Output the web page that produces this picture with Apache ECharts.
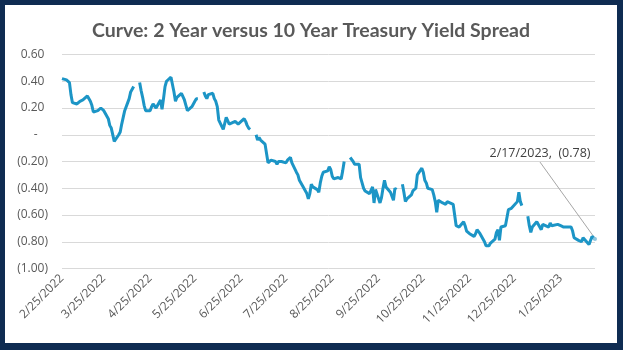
<!DOCTYPE html>
<html><head><meta charset="utf-8">
<script src="https://cdn.jsdelivr.net/npm/echarts@6/dist/echarts.min.js"></script>
<style>
html,body{margin:0;padding:0;background:#fff;}
#frame{position:absolute;left:0;top:0;width:623px;height:350px;background:#0f2c52;}
#chart{position:absolute;left:5px;top:5px;width:612px;height:338px;background:#fff;}
</style></head>
<body><div id="frame"><div id="chart"></div></div>
<script>
const chartTitle = 'Curve: 2 Year versus 10 Year Treasury Yield Spread';
const xTickLabels = ['2/25/2022','3/25/2022','4/25/2022','5/25/2022','6/25/2022','7/25/2022','8/25/2022','9/25/2022','10/25/2022','11/25/2022','12/25/2022','1/25/2023'];
const yMin = -1, yMax = 0.6, yStep = 0.2;
const dates = [
'2022-02-25','2022-02-28','2022-03-01','2022-03-02','2022-03-03','2022-03-04','2022-03-07','2022-03-08','2022-03-09','2022-03-10','2022-03-11',
'2022-03-14','2022-03-15','2022-03-16','2022-03-17','2022-03-18','2022-03-21','2022-03-22','2022-03-23','2022-03-24','2022-03-25',
'2022-03-28','2022-03-29','2022-03-30','2022-03-31','2022-04-01','2022-04-04','2022-04-05','2022-04-06','2022-04-07','2022-04-08',
'2022-04-11','2022-04-12','2022-04-13','2022-04-14','2022-04-15','2022-04-18','2022-04-19','2022-04-20','2022-04-21','2022-04-22',
'2022-04-25','2022-04-26','2022-04-27','2022-04-28','2022-04-29','2022-05-02','2022-05-03','2022-05-04','2022-05-05','2022-05-06',
'2022-05-09','2022-05-10','2022-05-11','2022-05-12','2022-05-13','2022-05-16','2022-05-17','2022-05-18','2022-05-19','2022-05-20',
'2022-05-23','2022-05-24','2022-05-25','2022-05-26','2022-05-27','2022-05-30','2022-05-31','2022-06-01','2022-06-02','2022-06-03',
'2022-06-06','2022-06-07','2022-06-08','2022-06-09','2022-06-10','2022-06-13','2022-06-14','2022-06-15','2022-06-16','2022-06-17',
'2022-06-21','2022-06-22','2022-06-23','2022-06-24','2022-06-27','2022-06-28','2022-06-29','2022-06-30','2022-07-01',
'2022-07-04','2022-07-05','2022-07-06','2022-07-07','2022-07-08','2022-07-11','2022-07-12','2022-07-13','2022-07-14','2022-07-15',
'2022-07-18','2022-07-19','2022-07-20','2022-07-21','2022-07-22','2022-07-25','2022-07-26','2022-07-27','2022-07-28','2022-07-29',
'2022-08-01','2022-08-02','2022-08-03','2022-08-04','2022-08-05','2022-08-08','2022-08-09','2022-08-10','2022-08-11','2022-08-12',
'2022-08-15','2022-08-16','2022-08-17','2022-08-18','2022-08-19','2022-08-22','2022-08-23','2022-08-24','2022-08-25','2022-08-26',
'2022-08-29','2022-08-30','2022-08-31','2022-09-01','2022-09-02','2022-09-05','2022-09-06','2022-09-07','2022-09-08','2022-09-09',
'2022-09-12','2022-09-13','2022-09-14','2022-09-15','2022-09-16','2022-09-19','2022-09-20','2022-09-21','2022-09-22','2022-09-23',
'2022-09-26','2022-09-27','2022-09-28','2022-09-29','2022-09-30','2022-10-03','2022-10-04','2022-10-05','2022-10-06','2022-10-07',
'2022-10-10','2022-10-11','2022-10-12','2022-10-13','2022-10-14','2022-10-17','2022-10-18','2022-10-19','2022-10-20','2022-10-21',
'2022-10-24','2022-10-25','2022-10-26','2022-10-27','2022-10-28','2022-10-31','2022-11-01','2022-11-02','2022-11-03','2022-11-04',
'2022-11-07','2022-11-08','2022-11-09','2022-11-10','2022-11-14','2022-11-15','2022-11-16','2022-11-17','2022-11-18',
'2022-11-21','2022-11-22','2022-11-23','2022-11-25','2022-11-28','2022-11-29','2022-11-30','2022-12-01','2022-12-02',
'2022-12-05','2022-12-06','2022-12-07','2022-12-08','2022-12-09','2022-12-12','2022-12-13','2022-12-14','2022-12-15','2022-12-16',
'2022-12-19','2022-12-20','2022-12-21','2022-12-22','2022-12-23','2022-12-27','2022-12-28','2022-12-29','2022-12-30',
'2023-01-02','2023-01-03','2023-01-04','2023-01-05','2023-01-06','2023-01-09','2023-01-10','2023-01-11','2023-01-12','2023-01-13',
'2023-01-17','2023-01-18','2023-01-19','2023-01-20','2023-01-23','2023-01-24','2023-01-25','2023-01-26','2023-01-27',
'2023-01-30','2023-01-31','2023-02-01','2023-02-02','2023-02-03','2023-02-06','2023-02-07','2023-02-08','2023-02-09','2023-02-10',
'2023-02-13','2023-02-14','2023-02-15','2023-02-16','2023-02-17'
];
const spread = [
0.42,0.41,0.40,0.39,0.30,0.24,0.23,0.22,0.25,0.25,0.26,
0.29,0.30,0.25,0.22,0.17,0.18,0.19,0.20,0.21,0.18,
0.12,0.07,0.05,0.04,-0.05,0.00,0.02,0.08,0.13,0.18,
0.27,0.32,0.33,0.36,null,0.39,0.33,0.28,0.22,0.18,
0.18,0.21,0.23,0.24,0.20,0.26,0.19,0.27,0.36,0.40,
0.43,0.43,0.32,0.25,0.28,0.31,0.30,0.26,0.22,0.18,
0.21,0.22,0.25,0.27,0.27,null,0.32,0.29,0.27,0.30,
0.31,0.27,0.25,0.21,0.11,0.04,0.03,0.13,0.12,0.08,
0.10,0.09,0.08,0.09,0.12,0.10,0.07,0.05,0.04,
null,0.00,-0.04,-0.02,-0.04,-0.07,-0.08,-0.21,-0.21,-0.19,
-0.20,-0.22,-0.20,-0.21,-0.20,-0.21,-0.19,-0.18,-0.17,-0.21,
-0.28,-0.30,-0.34,-0.33,-0.38,-0.44,-0.48,-0.44,-0.37,-0.39,
-0.41,-0.43,-0.36,-0.31,-0.28,-0.27,-0.24,-0.26,-0.31,-0.33,
-0.32,-0.33,-0.33,-0.27,-0.20,null,-0.17,-0.18,-0.20,-0.22,
-0.22,-0.32,-0.36,-0.40,-0.42,-0.44,-0.45,-0.39,-0.51,-0.41,
-0.51,-0.47,-0.40,-0.34,-0.39,-0.43,-0.44,-0.49,-0.40,-0.41,
null,-0.37,-0.43,-0.50,-0.48,-0.45,-0.42,-0.41,-0.40,-0.30,
-0.25,-0.28,-0.34,-0.36,-0.40,-0.41,-0.45,-0.50,-0.58,-0.49,
-0.51,-0.50,-0.52,-0.50,-0.52,-0.52,-0.68,-0.68,-0.69,
-0.65,-0.68,-0.72,-0.74,-0.76,-0.74,-0.71,-0.72,-0.74,
-0.80,-0.83,-0.84,-0.83,-0.81,-0.78,-0.73,-0.71,-0.79,-0.69,
-0.68,-0.68,-0.56,-0.57,-0.55,-0.50,-0.43,-0.50,-0.53,
null,-0.61,-0.68,-0.73,-0.69,-0.65,-0.66,-0.69,-0.71,-0.67,
-0.69,-0.66,-0.68,-0.69,-0.67,-0.68,-0.68,-0.69,-0.69,
-0.69,-0.70,-0.69,-0.72,-0.77,-0.79,-0.80,-0.80,-0.77,-0.78,
-0.82,-0.79,-0.76,-0.77,-0.78
];

function toKey(iso){ const p = iso.split('-').map(Number); return p[1] + '/' + p[2] + '/' + p[0]; }
function calendar(startIso, endIso){
  const out = []; const s = startIso.split('-').map(Number), e = endIso.split('-').map(Number);
  let t = Date.UTC(s[0], s[1]-1, s[2]); const end = Date.UTC(e[0], e[1]-1, e[2]);
  while (t <= end){ const d = new Date(t); out.push((d.getUTCMonth()+1) + '/' + d.getUTCDate() + '/' + d.getUTCFullYear()); t += 86400000; }
  return out;
}
const categories = calendar(dates[0], dates[dates.length-1]);
const lastIdx = dates.length - 1;
const lastKey = toKey(dates[lastIdx]);
const lastVal = spread[lastIdx];
const seriesData = dates.map((d, i) => {
  const item = { value: [toKey(d), spread[i] === null ? '-' : spread[i]] };
  if (i === lastIdx) { item.symbol = 'circle'; item.symbolSize = 4; }
  else { item.symbol = 'none'; }
  return item;
});
const fmtPlain = v => {
  const r = Math.round(v * 100) / 100;
  if (r === 0) return '-';
  return r < 0 ? '(' + (-r).toFixed(2) + ')' : r.toFixed(2);
};
const fmtAxis = v => {
  const r = Math.round(v * 100) / 100;
  if (r === 0) return '-{p|0)}';
  if (r < 0) return '(' + (-r).toFixed(2) + ')';
  return r.toFixed(2) + '{p|)}';
};
const FONT = 'Open Sans';
const chart = echarts.init(document.getElementById('chart'), null, { renderer: 'canvas' });
chart.setOption({
  animation: false,
  backgroundColor: '#ffffff',
  title: {
    text: chartTitle, left: 'center', top: 11,
    textStyle: { fontFamily: 'Lato', fontWeight: 'bold', fontSize: 19.5, color: '#595959' }
  },
  grid: { left: 57, right: 22, top: 49.5, bottom: 74.5, containLabel: false },
  xAxis: {
    type: 'category', data: categories, boundaryGap: false,
    axisLine: { show: false }, axisTick: { show: false },
    splitLine: { show: false },
    axisLabel: {
      interval: (idx, val) => xTickLabels.indexOf(val) >= 0,
      rotate: 45, margin: 8, color: '#595959', fontFamily: FONT, fontSize: 12
    }
  },
  yAxis: {
    type: 'value', min: yMin, max: yMax, interval: yStep,
    axisLine: { show: false }, axisTick: { show: false },
    splitLine: { show: true, lineStyle: { color: '#d9d9d9', width: 1 } },
    axisLabel: {
      margin: 14, color: '#595959', fontFamily: FONT, fontSize: 12,
      formatter: fmtAxis,
      rich: { p: { color: 'rgba(0,0,0,0)', fontFamily: FONT, fontSize: 12 } }
    }
  },
  series: [{
    type: 'line', data: seriesData, showSymbol: true, showAllSymbol: true,
    connectNulls: false, smooth: false,
    lineStyle: { color: '#1c95c6', width: 3 },
    itemStyle: { color: '#8fc6de' },
    emphasis: { disabled: true }
  }]
});
// data label with leader line, placed relative to the last point's pixel position
const pt = chart.convertToPixel({ gridIndex: 0 }, [lastKey, lastVal]);
const lblDx = -55, lblDy = -86;
chart.setOption({
  graphic: [
    { type: 'line', silent: true,
      shape: { x1: pt[0] + lblDx, y1: pt[1] + lblDy + 9, x2: pt[0] - 1, y2: pt[1] - 2 },
      style: { stroke: '#a6a6a6', lineWidth: 1 } },
    { type: 'text', silent: true, x: pt[0] + lblDx, y: pt[1] + lblDy,
      style: { text: lastKey + ',  ' + fmtPlain(lastVal), fill: '#404040',
        font: '12.5px "Open Sans"', textAlign: 'center', textVerticalAlign: 'middle' } }
  ]
});
</script>
</body></html>
